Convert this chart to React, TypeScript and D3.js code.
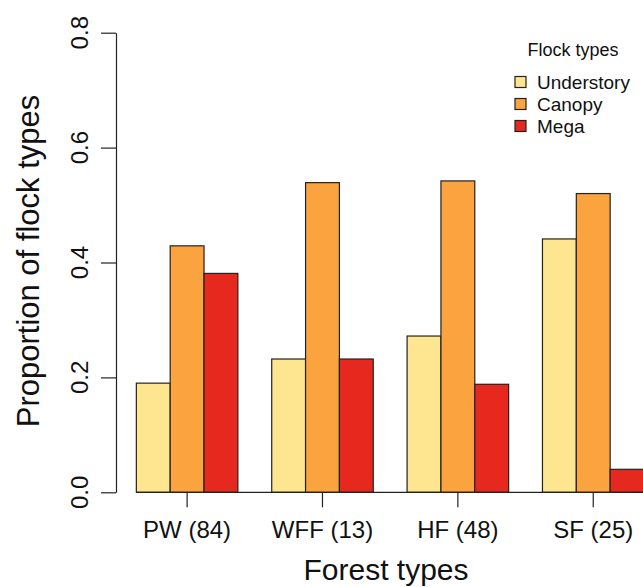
import React, { useEffect, useRef } from 'react';
import * as d3 from 'd3';

// data
const forestTypes = ['PW (84)', 'WFF (13)', 'HF (48)', 'SF (25)'];
const flockTypes = ['Understory', 'Canopy', 'Mega'];
const understory = [0.19, 0.232, 0.272, 0.441];
const canopy = [0.429, 0.539, 0.542, 0.52];
const mega = [0.381, 0.232, 0.188, 0.04];
const yTicks = [0, 0.2, 0.4, 0.6, 0.8];
const colors = ['#FEE690', '#FBA33E', '#E7281F'];

const App = () => {
  const ref = useRef<SVGSVGElement | null>(null);

  useEffect(() => {
    const svg = d3.select(ref.current);
    svg.selectAll('*').remove();

    const width = 643;
    const height = 587;
    const font = '"Liberation Sans", Arial, Helvetica, sans-serif';

    // escalas
    const x0 = d3.scaleBand<string>()
      .domain(forestTypes)
      .range([102.5, 644])
      .padding(0);
    const bw = x0.bandwidth();
    const x1 = d3.scaleBand<string>()
      .domain(flockTypes)
      .range([bw / 4, bw])
      .padding(0);
    const y = d3.scaleLinear().domain([0, 0.8]).range([492.3, 32.7]);

    const series = [understory, canopy, mega];
    const rows = forestTypes.map((f, i) => ({
      forest: f,
      vals: flockTypes.map((t, j) => ({ type: t, v: series[j][i], c: colors[j] })),
    }));

    // barras
    const g = svg.append('g');
    const groups = g.selectAll('g.grp')
      .data(rows)
      .enter()
      .append('g')
      .attr('class', 'grp')
      .attr('transform', d => `translate(${x0(d.forest)},0)`);

    groups.selectAll('rect')
      .data(d => d.vals)
      .enter()
      .append('rect')
      .attr('x', d => x1(d.type)!)
      .attr('y', d => y(d.v))
      .attr('width', x1.bandwidth())
      .attr('height', d => y(0) - y(d.v))
      .attr('fill', d => d.c)
      .attr('stroke', '#222')
      .attr('stroke-width', 1.2);

    // eje x
    const firstBar = x0(forestTypes[0])! + x1(flockTypes[0])!;
    svg.append('line')
      .attr('x1', firstBar).attr('x2', width)
      .attr('y1', y(0)).attr('y2', y(0))
      .attr('stroke', '#222').attr('stroke-width', 1.2);

    const center = (f: string) => x0(f)! + x1('Canopy')! + x1.bandwidth() / 2;
    svg.selectAll('line.xt')
      .data(forestTypes)
      .enter()
      .append('line')
      .attr('class', 'xt')
      .attr('x1', d => center(d)).attr('x2', d => center(d))
      .attr('y1', y(0)).attr('y2', y(0) + 15)
      .attr('stroke', '#222').attr('stroke-width', 1.2);

    svg.selectAll('text.xl')
      .data(forestTypes)
      .enter()
      .append('text')
      .attr('class', 'xl')
      .attr('x', d => center(d))
      .attr('y', 538)
      .attr('text-anchor', 'middle')
      .style('font-family', font)
      .style('font-size', '24px')
      .attr('fill', '#111')
      .text(d => d);

    // eje y
    const yAxis = d3.axisLeft(y)
      .tickValues(yTicks)
      .tickSize(15)
      .tickSizeOuter(0)
      .tickFormat(() => '');
    const ya = svg.append('g')
      .attr('transform', 'translate(116,0)')
      .call(yAxis);
    ya.selectAll('path, line').attr('stroke', '#222').attr('stroke-width', 1.2);

    svg.selectAll('text.yl')
      .data(yTicks)
      .enter()
      .append('text')
      .attr('class', 'yl')
      .attr('transform', d => `translate(88,${y(d)}) rotate(-90)`)
      .attr('text-anchor', 'middle')
      .style('font-family', font)
      .style('font-size', '24px')
      .attr('fill', '#111')
      .text(d => d3.format('.1f')(d));

    // títulos
    svg.append('text')
      .attr('transform', 'translate(39,261) rotate(-90)')
      .attr('text-anchor', 'middle')
      .style('font-family', font)
      .style('font-size', '31px')
      .attr('fill', '#111')
      .text('Proportion of flock types');

    svg.append('text')
      .attr('x', 386)
      .attr('y', 580)
      .attr('text-anchor', 'middle')
      .style('font-family', font)
      .style('font-size', '30px')
      .attr('fill', '#111')
      .text('Forest types');

    // leyenda
    svg.append('text')
      .attr('x', 573)
      .attr('y', 55.7)
      .attr('text-anchor', 'middle')
      .style('font-family', font)
      .style('font-size', '18px')
      .attr('fill', '#111')
      .text('Flock types');

    const leg = svg.selectAll('g.leg')
      .data(flockTypes)
      .enter()
      .append('g')
      .attr('class', 'leg')
      .attr('transform', (d, i) => `translate(515,${76.5 + i * 22})`);
    leg.append('rect')
      .attr('width', 11).attr('height', 11)
      .attr('fill', (d, i) => colors[i])
      .attr('stroke', '#222').attr('stroke-width', 1.2);
    leg.append('text')
      .attr('x', 22)
      .attr('y', 12.3)
      .style('font-family', font)
      .style('font-size', '19px')
      .attr('fill', '#111')
      .text(d => d);

    svg.attr('width', width).attr('height', height);
  }, []);

  return (
    <svg
      ref={ref}
      width={643}
      height={587}
      style={{ position: 'absolute', left: 0, top: 0, background: '#fff' }}
    />
  );
};

export default App;
